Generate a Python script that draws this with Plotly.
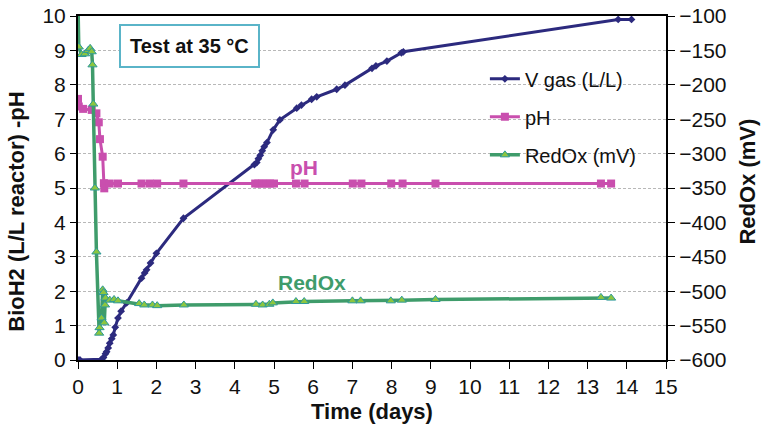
import plotly.graph_objects as go

# Time axis (days) and measured series
vgas_t = [0, 0.05, 0.6, 0.65, 0.7, 0.73, 0.77, 0.81, 0.86, 0.9, 0.95, 1.02, 1.1, 1.24,
          1.62, 1.7, 1.75, 1.85, 2.0, 2.69, 4.5, 4.56, 4.6, 4.65, 4.7, 4.75, 4.82, 4.98,
          5.15, 5.58, 5.7, 5.96, 6.09, 6.6, 6.81, 7.5, 7.6, 7.88, 8.25, 8.3, 13.78, 14.12]
vgas = [0, 0, 0.02, 0.07, 0.18, 0.24, 0.35, 0.49, 0.62, 0.73, 0.95, 1.22, 1.42, 1.66,
        2.38, 2.53, 2.62, 2.82, 3.1, 4.12, 5.68, 5.74, 5.85, 5.95, 6.08, 6.2, 6.32, 6.69,
        6.98, 7.32, 7.41, 7.58, 7.65, 7.87, 7.99, 8.48, 8.55, 8.69, 8.93, 8.96, 9.9, 9.9]

ph_t = [0, 0.02, 0.13, 0.35, 0.47, 0.53, 0.56, 0.63, 0.66, 0.67, 0.81, 1.02, 1.62, 1.83,
        2.02, 2.69, 4.52, 4.6, 4.7, 4.8, 4.9, 5.0, 5.56, 5.78, 7.01, 7.23, 7.99, 8.28,
        9.12, 13.34, 13.6]
ph = [7.59, 7.37, 7.3, 7.27, 7.17, 6.91, 6.42, 5.91, 5.14, 4.99, 5.13, 5.13, 5.13, 5.13,
      5.13, 5.13, 5.13, 5.13, 5.13, 5.13, 5.13, 5.13, 5.13, 5.13, 5.13, 5.13, 5.13, 5.13,
      5.13, 5.13, 5.13]

redox_t = [0, 0.02, 0.09, 0.18, 0.26, 0.31, 0.35, 0.37, 0.39, 0.43, 0.47, 0.54, 0.55, 0.6,
           0.63, 0.65, 0.67, 0.69, 0.7, 0.81, 0.92, 1.02, 1.56, 1.69, 1.9, 2.02, 2.7, 4.54,
           4.71, 4.88, 4.97, 5.56, 5.77, 7.0, 7.21, 7.98, 8.26, 9.12, 13.34, 13.6]
redox = [-84, -145, -156, -155, -150, -147, -152, -171, -228, -350, -443, -561, -553, -539,
         -498, -502, -546, -520, -510, -513, -512, -514, -518, -520, -520, -521, -520, -519,
         -520, -519, -517, -515, -515, -514, -514, -514, -513, -512, -509, -510]

x_ticks = list(range(0, 16))
left_ticks = list(range(0, 11))
right_ticks = list(range(-600, -99, 50))

NAVY = "#2c2a7e"
MAGENTA = "#c94fae"
GREEN = "#3f9c6b"
FONT = "Liberation Sans, Arial, sans-serif"

fig = go.Figure()
fig.add_trace(go.Scatter(
    x=vgas_t, y=vgas, name="V gas (L/L)", mode="lines+markers", legendgroup="a",
    line=dict(color=NAVY, width=3),
    marker=dict(symbol="diamond", size=6, color=NAVY),
))
fig.add_trace(go.Scatter(
    x=ph_t, y=ph, name="pH", mode="lines+markers", legendgroup="b",
    line=dict(color=MAGENTA, width=3),
    marker=dict(symbol="square", size=8, color=MAGENTA),
))
fig.add_trace(go.Scatter(
    x=redox_t, y=redox, name="RedOx (mV)", mode="lines+markers", legendgroup="c",
    yaxis="y2",
    line=dict(color=GREEN, width=3.5),
    marker=dict(symbol="triangle-up", size=8, color="#8cc63f",
                line=dict(color="#2e9a9a", width=1)),
))

# white panel behind the legend
fig.add_shape(type="rect", xref="paper", yref="paper", x0=0.658, x1=0.998,
              y0=0.552, y1=0.872, fillcolor="white", line=dict(width=0),
              layer="between")

fig.add_annotation(
    text="<b>Test at 35 °C</b>", xref="paper", yref="paper", x=0.19, y=0.913,
    xanchor="center", yanchor="middle",
    showarrow=False, font=dict(family=FONT, size=20, color="#111111"),
    bgcolor="white", bordercolor="#5ab4c8", borderwidth=2, borderpad=9,
)
fig.add_annotation(text="<b>pH</b>", x=5.77, y=5.6, showarrow=False,
                   font=dict(family=FONT, size=21, color=MAGENTA))
fig.add_annotation(text="<b>RedOx</b>", x=5.97, y=2.24, showarrow=False,
                   font=dict(family=FONT, size=21, color=GREEN))

# axis titles placed as rotated text
title_font = dict(family=FONT, size=22, color="#111111")
fig.add_annotation(text="<b>BioH2 (L/L reactor) -pH</b>", xref="paper", yref="paper",
                   x=-0.106, y=0.43, textangle=-90, showarrow=False,
                   xanchor="center", yanchor="middle", font=title_font)
fig.add_annotation(text="<b>RedOx (mV)</b>", xref="paper", yref="paper",
                   x=1.139, y=0.518, textangle=-90, showarrow=False,
                   xanchor="center", yanchor="middle", font=title_font)

axis_font = dict(family=FONT, size=21, color="#111111")

fig.update_layout(
    width=761, height=433,
    margin=dict(l=78, r=95, t=16, b=73, autoexpand=False),
    paper_bgcolor="white", plot_bgcolor="white",
    font=dict(family=FONT, color="#111111"),
    xaxis=dict(
        range=[0, 15], tickvals=x_ticks, ticks="outside", ticklen=7, tickcolor="black",
        showline=True, linecolor="black", linewidth=2, mirror=True,
        showgrid=False, zeroline=False, tickfont=axis_font, automargin=False,
        title=dict(text="<b>Time (days)</b>", font=title_font, standoff=6),
    ),
    yaxis=dict(
        range=[0, 10], tickvals=left_ticks, ticks="outside", ticklen=6, tickcolor="black",
        showline=True, linecolor="black", linewidth=2, automargin=False,
        showgrid=True, gridcolor="#b8b8b8", griddash="3px,2px", gridwidth=1,
        zeroline=False, tickfont=axis_font,
    ),
    yaxis2=dict(
        range=[-600, -100], tickvals=right_ticks, overlaying="y", side="right",
        ticks="outside", ticklen=7, tickcolor="black", automargin=False,
        showline=True, linecolor="black", linewidth=2,
        showgrid=False, zeroline=False, tickfont=axis_font,
    ),
    legend=dict(
        x=0.692, y=0.874, xanchor="left", yanchor="top",
        bgcolor="rgba(255,255,255,0)", font=dict(family=FONT, size=20, color="#111111"),
        tracegroupgap=9, itemwidth=30,
    ),
    showlegend=True,
)

fig.write_html("out.html")
